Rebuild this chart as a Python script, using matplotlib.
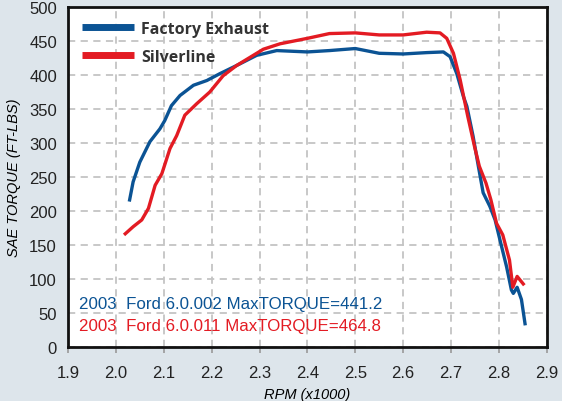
import matplotlib.pyplot as plt

# Factory exhaust curve (rpm x1000, torque ft-lbs)
rpmFactory = [2.028, 2.036, 2.050, 2.071, 2.092, 2.102, 2.116, 2.134, 2.162,
              2.190, 2.217, 2.252, 2.294, 2.336, 2.400, 2.446, 2.500, 2.550,
              2.600, 2.649, 2.684, 2.698, 2.712, 2.726, 2.733, 2.746, 2.757,
              2.767, 2.781, 2.792, 2.802, 2.816, 2.826, 2.830, 2.838, 2.847,
              2.855]
tqFactory = [214, 243, 272, 302, 321, 333, 355, 370, 385,
             392, 402, 414, 429, 436, 434, 436, 439, 432,
             431, 433, 434, 427, 402, 368, 354, 310, 266,
             227, 207, 187, 158, 118, 84, 79, 88, 70,
             32]

# Silverline curve
rpmSilver = [2.017, 2.036, 2.054, 2.068, 2.082, 2.096, 2.113, 2.127, 2.144,
             2.169, 2.196, 2.224, 2.252, 2.280, 2.308, 2.343, 2.400, 2.446,
             2.500, 2.550, 2.600, 2.649, 2.677, 2.691, 2.705, 2.719, 2.735,
             2.749, 2.759, 2.773, 2.783, 2.795, 2.808, 2.822, 2.829, 2.838,
             2.853]
tqSilver = [165, 177, 187, 204, 238, 255, 292, 311, 341,
            358, 375, 399, 414, 426, 438, 446, 454, 461,
            462, 459, 459, 463, 462, 454, 432, 393, 339,
            295, 266, 241, 217, 182, 165, 128, 88, 104,
            91]

xTicks = [1.9, 2.0, 2.1, 2.2, 2.3, 2.4, 2.5, 2.6, 2.7, 2.8, 2.9]
yTicks = list(range(0, 501, 50))

blue = '#0b5394'
red = '#e31b23'

plt.rcParams['font.family'] = ['Liberation Sans', 'DejaVu Sans']

fig = plt.figure(figsize=(5.62, 4.02), dpi=100, facecolor='#dde5eb')
ax = fig.add_axes([0.121, 0.134, 0.852, 0.846])
ax.set_facecolor('white')

ax.plot(rpmFactory, tqFactory, color=blue, lw=2.4, label='Factory Exhaust',
        solid_joinstyle='round', solid_capstyle='butt')
ax.plot(rpmSilver, tqSilver, color=red, lw=2.4, label='Silverline',
        solid_joinstyle='round', solid_capstyle='butt')

ax.set_xlim(1.9, 2.9)
ax.set_ylim(0, 500)
ax.set_xticks(xTicks)
ax.set_xticklabels(['%.1f' % t for t in xTicks])
ax.set_yticks(yTicks)
ax.tick_params(axis='both', labelsize=12, labelcolor='#222222')
ax.tick_params(axis='y', length=0, pad=8)
ax.tick_params(axis='x', length=4, width=1.2, color='#999999', pad=9)

ax.grid(True, color='#c4c4c4', ls=(0, (4, 3)), lw=1.3)
ax.set_axisbelow(True)
for s in ax.spines.values():
    s.set_linewidth(2)
    s.set_color('#111111')

ax.set_xlabel('RPM (x1000)', style='italic', fontsize=10.5, labelpad=5)
ax.set_ylabel('SAE TORQUE (FT-LBS)', style='italic', fontsize=10.5,
              labelpad=6)

leg = ax.legend(loc='upper left', frameon=False, handlelength=3.3,
                handletextpad=0.45, borderaxespad=0.45, labelspacing=0.75,
                prop={'family': 'Open Sans', 'weight': 'bold', 'size': 11.5})
for line in leg.get_lines():
    line.set_linewidth(5)
for t in leg.get_texts():
    t.set_color('#333333')

ax.text(0.023, 0.129, '2003  Ford 6.0.002 MaxTORQUE=441.2', color=blue,
        fontsize=12.2, va='center', transform=ax.transAxes)
ax.text(0.023, 0.064, '2003  Ford 6.0.011 MaxTORQUE=464.8', color=red,
        fontsize=12.2, va='center', transform=ax.transAxes)

fig.savefig('out.png', dpi=100, facecolor=fig.get_facecolor())
